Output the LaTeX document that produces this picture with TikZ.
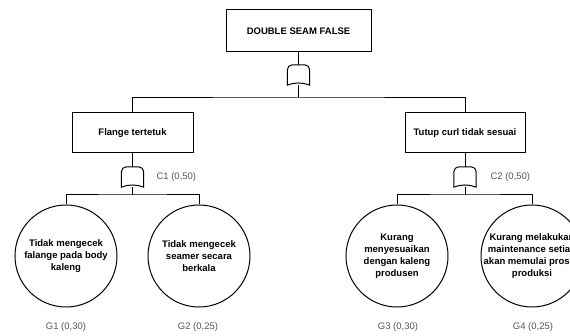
\documentclass[tikz,border=0pt]{standalone}
\usepackage{fontspec}
\setmainfont{Liberation Sans}
\definecolor{lblgray}{RGB}{85,85,85}
\newcommand\andgate[1]{%
  \draw [gateline] (#1.south west) -- ([yshift=-5pt]#1.north west) to[out=90,in=180] ([xshift=5pt]#1.north west) -- ([xshift=-5pt]#1.north east) to[out=0,in=90] ([yshift=-5pt]#1.north east) -- (#1.south east) to[out=160,in=20] (#1.south west) -- cycle ;}

\begin{document}
\begin{tikzpicture}[x=1pt,y=-1pt]
   \tikzstyle{event}=[draw,line width=1pt,inner sep=0pt,font=\fontsize{9.5}{12}\selectfont\bfseries]
   \tikzstyle{basic}=[draw,circle,line width=1pt,minimum size=102pt,inner sep=0pt]
   \tikzstyle{btext}=[align=center,font=\fontsize{9.5}{12}\selectfont\bfseries]
   \tikzstyle{gate}=[inner sep=0pt,minimum width=22pt,minimum height=20pt]
   \tikzstyle{gateline}=[line width=1pt,fill=white]
   \tikzstyle{line}=[line width=1pt,draw]
   \tikzstyle{prob}=[text=lblgray,font=\fontsize{9.5}{12}\selectfont]
   \useasboundingbox (0,0) rectangle (570,336) ;
   \node (top) [event,minimum width=145pt,minimum height=42pt] at (298.5,31) {DOUBLE SEAM FALSE} ;
   \node (g0) [gate] at (298.5,75) {} ;
   \coordinate (j0) at (298.5,98) ;
   \node (flange) [event,minimum width=121pt,minimum height=40pt] at (132.5,133) {Flange tertetuk} ;
   \node (curl) [event,minimum width=120pt,minimum height=40pt] at (465,133) {Tutup curl tidak sesuai} ;
   \node (c1) [gate] at (132.5,177) {} ;
   \node (c2) [gate] at (465,177) {} ;
   \node (c1p) [prob,anchor=west] at (153,177) {C1 (0,50)} ;
   \node (c2p) [prob,anchor=west] at (487,177) {C2 (0,50)} ;
   \coordinate (j1) at (132.5,195) ;
   \coordinate (j2) at (465,195) ;
   \node (e1) [basic] at (66,256) {} ;
   \node (e2) [basic] at (199,256) {} ;
   \node (e3) [basic] at (397,256) {} ;
   \node (e4) [basic] at (532,256) {} ;
   \node (t1) [btext] at (e1.center) {Tidak mengecek\\falange pada body\\kaleng} ;
   \node (t2) [btext] at (e2.center) {Tidak mengecek\\seamer secara\\berkala} ;
   \node (t3) [btext] at (e3.center) {Kurang\\menyesuaikan\\dengan kaleng\\produsen} ;
   \node (t4) [btext] at (e4.center) {Kurang melakukan\\maintenance setiap\\akan memulai proses\\produksi} ;
   \node (p1) [prob] at (66,327) {G1 (0,30)} ;
   \node (p2) [prob] at (198,327) {G2 (0,25)} ;
   \node (p3) [prob] at (398,327) {G3 (0,30)} ;
   \node (p4) [prob] at (533,327) {G4 (0,25)} ;
   \path [line] (top) -- (g0) ;
   \path [line] (g0) -- (j0) ;
   \path [line] (flange.north) |- (j0) -| (curl.north) ;
   \path [line] (flange) -- (c1) ;
   \path [line] (curl) -- (c2) ;
   \path [line] (c1) -- (j1) ;
   \path [line] (c2) -- (j2) ;
   \path [line] (e1.north) |- (j1) -| (e2.north) ;
   \path [line] (e3.north) |- (j2) -| (e4.north) ;
   \andgate{g0}
   \andgate{c1}
   \andgate{c2}
\end{tikzpicture}
\end{document}
